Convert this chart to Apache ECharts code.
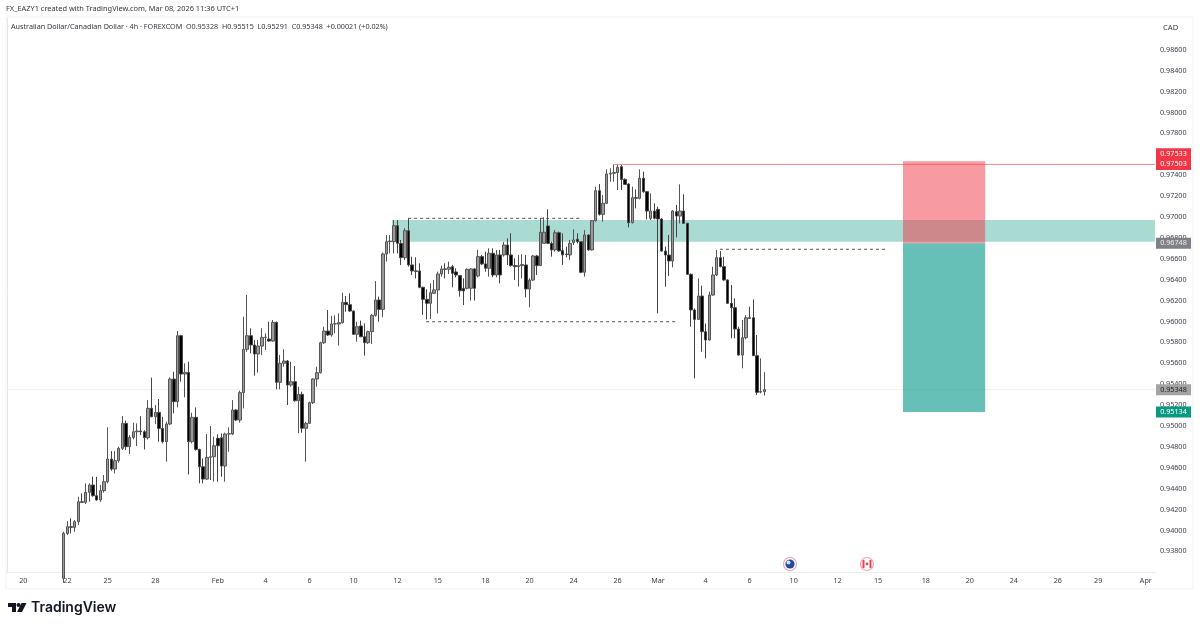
<!DOCTYPE html>
<html>
<head>
<meta charset="utf-8">
<title>AUDCAD 4h</title>
<script src="https://cdn.jsdelivr.net/npm/echarts@6/dist/echarts.min.js"></script>
<style>
html, body { margin: 0; padding: 0; background: #fff; }
#chart { width: 1200px; height: 627px; }
</style>
</head>
<body>
<div id="chart"></div>
<script>
// candles, oldest first, one per 4h
var opens = [.93542,.93972,.94036,.94030,.94084,.94275,.94270,.94365,.94435,.94333,.94292,.94381,.94467,.94684,.94588,.94668,.94786,.95025,.94802,.94891,.94945,.94952,.94945,.94888,.95169,.95089,.95130,.94977,.94850,.95019,.95449,.95233,.95864,.95497,.95513,.94850,.95083,.94776,.94610,.94492,.94700,.94706,.94882,.94888,.94617,.94923,.94923,.95153,.95057,
  .95319,.95734,.95864,.95775,.95689,.95765,.95848,.95832,.95813,.95992,.95418,.95600,.95622,.95392,.95424,.95242,.95303,.94978,.95025,.95223,.95450,.95510,.95797,.95909,.95871,.95976,.95976,.95989,.96183,.96161,.96100,.95877,.95957,.95855,.95797,.95903,.96059,.96206,.96116,.96646,.96764,.96764,.96917,.96748,.96611,.96869,.96541,.96484,.96484,
  .96327,.96212,.96174,.96270,.96302,.96455,.96503,.96500,.96525,.96474,.96439,.96318,.96318,.96318,.96503,.96436,.96621,.96551,.96509,.96653,.96445,.96637,.96637,.96732,.96637,.96535,.96525,.96535,.96541,.96311,.96397,.96627,.96535,.96748,.96914,.96748,.96685,.96850,.96678,.96646,.96637,.96755,.96787,.96764,.96471,.96828,.96685,
  .96965,.97252,.97025,.97131,.97411,.97418,.97424,.97481,.97360,.97316,.96945,.97185,.97179,.97370,.97242,.96987,.97057,.97073,.96981,.96674,.96636,.96579,.97051,.97009,.97057,.96939,.96451,.96110,.96020,.96244,.95902,.95823,.96253,.96445,.96611,.96525,.96397,.96174,.96132,.95928,.95679,.95845,.96036,.96036,.95673,.95325,.95328];
var highs = [.93988,.94090,.94116,.94100,.94323,.94355,.94451,.94451,.94515,.94515,.94435,.94531,.94987,.94760,.94760,.94802,.95095,.95051,.94913,.95031,.95025,.95095,.94961,.95248,.95462,.95200,.95258,.95089,.95041,.95465,.95520,.95909,.95870,.95600,.95615,.95127,.95178,.94782,.94690,.94923,.95000,.94898,.94920,.94929,.94936,.94987,.95248,.95160,.95338,
  .96046,.96254,.95935,.95823,.95823,.95935,.95887,.95998,.96014,.96000,.95679,.95734,.95632,.95615,.95574,.95376,.95328,.95041,.95233,.95456,.95568,.95807,.95950,.96110,.96053,.96059,.96078,.96276,.96244,.96270,.96105,.95998,.96008,.95982,.95912,.96072,.96387,.96238,.96659,.96828,.96828,.96971,.96971,.96780,.96892,.96987,.96620,.96614,.96557,
  .96333,.96308,.96366,.96397,.96477,.96535,.96557,.96573,.96541,.96509,.96445,.96413,.96509,.96509,.96509,.96685,.96637,.96669,.96700,.96700,.96685,.96685,.96760,.96796,.96844,.96605,.96637,.96643,.96637,.96413,.96637,.96637,.96988,.96997,.97074,.96764,.96876,.96860,.96844,.96716,.96780,.96882,.96844,.96764,.96876,.96835,.96971,
  .97290,.97316,.97210,.97456,.97466,.97504,.97507,.97504,.97370,.97322,.97290,.97264,.97456,.97434,.97245,.97226,.97131,.97099,.96987,.96716,.96828,.97067,.97115,.97312,.97217,.96945,.96460,.96125,.96413,.96343,.95982,.96285,.96525,.96684,.96674,.96620,.96403,.96349,.96221,.95950,.96014,.96062,.96142,.96212,.95871,.95647,.95515];
var lows = [.93500,.93956,.93972,.93988,.94052,.94265,.94253,.94275,.94323,.94285,.94275,.94362,.94451,.94572,.94547,.94649,.94770,.94770,.94732,.94872,.94808,.94913,.94776,.94872,.95083,.95019,.94850,.94834,.94658,.95009,.95121,.95178,.95424,.95274,.94537,.94834,.94764,.94451,.94451,.94483,.94483,.94467,.94467,.94515,.94467,.94754,.94913,.95047,.95033,
  .95169,.95711,.95695,.95482,.95510,.95679,.95727,.95807,.95807,.95351,.95351,.95568,.95201,.95376,.95233,.94930,.94936,.94658,.95025,.95210,.95376,.95504,.95785,.95861,.95855,.95887,.95769,.95982,.96094,.96094,.95871,.95807,.95849,.95673,.95785,.95785,.96046,.95998,.96040,.96573,.96652,.96652,.96652,.96541,.96589,.96525,.96445,.96413,.96318,
  .96063,.96019,.96024,.96263,.96078,.96429,.96413,.96455,.96327,.96423,.96238,.96158,.96308,.96200,.96200,.96423,.96541,.96477,.96429,.96423,.96423,.96365,.96621,.96541,.96525,.96397,.96334,.96413,.96231,.96136,.96388,.96445,.96531,.96748,.96741,.96621,.96669,.96669,.96541,.96614,.96589,.96732,.96748,.96461,.96429,.96678,.96678,
  .96955,.97013,.96955,.97124,.97338,.97338,.97258,.97258,.97306,.96901,.96939,.97083,.97169,.97233,.96977,.96971,.96977,.96078,.96668,.96333,.96435,.96518,.96805,.96939,.96933,.96445,.95950,.95456,.96014,.95711,.95647,.95816,.96247,.96435,.96518,.96390,.96167,.95839,.95839,.95673,.95552,.95829,.96030,.95670,.95296,.95312,.95291];
var closes = [.93972,.94036,.94030,.94084,.94275,.94270,.94365,.94435,.94333,.94292,.94381,.94467,.94684,.94588,.94668,.94786,.95025,.94802,.94891,.94945,.94952,.94945,.94888,.95169,.95089,.95130,.94977,.94850,.95019,.95449,.95233,.95864,.95497,.95513,.94850,.95083,.94776,.94610,.94492,.94700,.94706,.94811,.94811,.94617,.94923,.94926,.95153,.95057,.95319,
  .95734,.95864,.95775,.95689,.95765,.95848,.95850,.95813,.95992,.95418,.95600,.95622,.95392,.95424,.95242,.95303,.94978,.95025,.95223,.95450,.95510,.95797,.95909,.95871,.95976,.95979,.95989,.96183,.96161,.96100,.95877,.95950,.95855,.95797,.95903,.96059,.96206,.96116,.96646,.96764,.96770,.96917,.96748,.96611,.96869,.96541,.96484,.96480,.96327,
  .96212,.96174,.96276,.96302,.96455,.96503,.96500,.96519,.96461,.96445,.96295,.96292,.96499,.96503,.96318,.96621,.96551,.96509,.96653,.96445,.96637,.96445,.96732,.96637,.96535,.96525,.96535,.96545,.96311,.96397,.96627,.96535,.96854,.96854,.96748,.96685,.96850,.96675,.96637,.96640,.96748,.96780,.96764,.96471,.96828,.96685,.96965,
  .97252,.97025,.97131,.97411,.97418,.97425,.97475,.97360,.97312,.96945,.97185,.97180,.97370,.97242,.97057,.97057,.96987,.96981,.96674,.96636,.96579,.97057,.97009,.97057,.96939,.96451,.96110,.96020,.96244,.95902,.95823,.96253,.96445,.96611,.96525,.96397,.96174,.96132,.95928,.95679,.95845,.96036,.96030,.95673,.95322,.95328,.95348];

// x axis, one slot per candle width, future slots stay empty
var leadingSlots = 15;
var slotCount = 313;
var tickSlots = [4,16,27,40,57,70,82,94,106,117,130,142,154,166,177,190,202,214,226,237,250,262,274,286,297,310];
var tickLabels = ['20','22','25','28','Feb','4','6','10','12','15','18','20','24','26','Mar','4','6','10','12','15','18','20','24','26','29','Apr'];
var priceTicks = [0.938,0.94,0.942,0.944,0.946,0.948,0.95,0.952,0.954,0.956,0.958,0.96,0.962,0.964,0.966,0.968,0.97,0.972,0.974,0.976,0.978,0.98,0.982,0.984,0.986];

// drawings on the chart, [from slot, to slot, price top, price bottom]
var supplyZone = [105, 313, 0.96971, 0.96764];
var stopBox = [244.3, 266.7, 0.97533, 0.96748];
var targetBox = [244.3, 266.7, 0.96748, 0.95134];
// [from slot, to slot, price]
var dashedLevels = [[109.4, 156.8, 0.96987], [114.3, 182.7, 0.95998], [194.4, 240.2, 0.96691]];
var stopLine = [165.3, 313, 0.97503];
var lastPrice = 0.95348;
var tagPrices = [0.97533, 0.97503, 0.96748, 0.95348, 0.95134];

var FONT = '"Noto Sans", sans-serif';
var TEXT = '#3a3d45';
var tagFill = ['#f23645', '#f23645', '#7f8186', '#a3a3a3', '#089981'];
var tagText = ['#fff', '#fff', '#eee', '#222', '#fff'];

var categories = [];
for (var i = 0; i < slotCount; i++) {
    var t = tickSlots.indexOf(i);
    categories.push(t >= 0 ? tickLabels[t] : '');
}

var candleData = [];
for (var i = 0; i < leadingSlots; i++) candleData.push('-');
for (var i = 0; i < opens.length; i++) {
    candleData.push([opens[i], closes[i], lows[i], highs[i]]);
}

function boxSeries(box, color, z) {
    return {
        type: 'custom',
        xAxisIndex: 1,
        z: z,
        silent: true,
        data: [box],
        renderItem: function (params, api) {
            var a = api.coord([api.value(0), api.value(2)]);
            var b = api.coord([api.value(1), api.value(3)]);
            return {
                type: 'rect',
                shape: { x: a[0], y: a[1], width: b[0] - a[0], height: b[1] - a[1] },
                style: { fill: color }
            };
        }
    };
}

function levelSeries(level, color, type, z) {
    return {
        type: 'line',
        xAxisIndex: 1,
        z: z,
        silent: true,
        symbol: 'none',
        lineStyle: { color: color, width: 1, type: type },
        data: [[level[0], level[2]], [level[1], level[2]]]
    };
}

var series = [
    boxSeries(supplyZone, '#a9dbd3', 1),
    levelSeries([0, slotCount, lastPrice], '#efefef', 'solid', 1),
    {
        type: 'candlestick',
        z: 2,
        barWidth: 3,
        silent: true,
        itemStyle: {
            color: '#9a9a9a',
            color0: '#000',
            borderColor: '#555',
            borderColor0: '#444',
            borderWidth: 1
        },
        data: candleData
    },
    levelSeries(stopLine, '#f58a92', 'solid', 3),
    boxSeries(stopBox, 'rgba(242,54,69,0.5)', 4),
    boxSeries(targetBox, 'rgba(0,150,136,0.6)', 4)
];
dashedLevels.forEach(function (level) {
    series.push(levelSeries(level, '#555', [3, 3], 3));
});
// price tags sit on the scale, right of the plot
series.push({
    type: 'custom',
    xAxisIndex: 1,
    z: 6,
    silent: true,
    data: tagPrices.map(function (p) { return [slotCount, p]; }),
    renderItem: function (params, api) {
        var c = api.coord([slotCount, api.value(1)]);
        var i = params.dataIndex;
        var y = i === 0 ? c[1] - 7.5 : c[1];   // top tag gets pushed up by the one under it
        return {
            type: 'group',
            children: [
                { type: 'rect', shape: { x: c[0] + 1, y: y - 5.5, width: 35, height: 11 }, style: { fill: tagFill[i] } },
                { type: 'text', style: { x: c[0] + 18.5, y: y, text: api.value(1).toFixed(5), fill: tagText[i], font: '7.2px ' + FONT, align: 'center', verticalAlign: 'middle' } }
            ]
        };
    }
});

var myChart = echarts.init(document.getElementById('chart'));
myChart.setOption({
    animation: false,
    backgroundColor: '#fff',
    grid: { left: 6.85, right: 45, top: 18.45, bottom: 54.7, containLabel: false },
    xAxis: [
        {
            type: 'category',
            data: categories,
            boundaryGap: true,
            axisLine: { lineStyle: { color: '#eceef3' } },
            axisTick: { show: false },
            splitLine: { show: false },
            axisLabel: {
                color: TEXT,
                fontFamily: FONT,
                fontSize: 7.2,
                margin: 5,
                hideOverlap: false,
                interval: function (index) { return tickSlots.indexOf(index) >= 0; }
            }
        },
        { type: 'value', min: 0, max: slotCount, show: false }
    ],
    yAxis: {
        type: 'value',
        position: 'right',
        min: 0.936,
        max: 0.989,
        axisLine: { show: true, lineStyle: { color: '#e4e6ec' } },
        axisTick: { show: false },
        splitLine: { show: false },
        axisLabel: {
            color: TEXT,
            fontFamily: FONT,
            fontSize: 7.2,
            margin: 5,
            customValues: priceTicks,
            formatter: function (v) { return v.toFixed(5); }
        }
    },
    series: series,
    graphic: [
        { type: 'rect', z: 0, shape: { x: 6, y: 17, width: 1187, height: 572 }, style: { fill: 'none', stroke: '#f0f2f6', lineWidth: 1 } },
        { type: 'text', z: 10, style: { x: 6, y: 9, text: 'FX_EAZY1 created with TradingView.com, Mar 08, 2026 11:36 UTC+1', fill: '#33363d', font: '7.4px ' + FONT, verticalAlign: 'middle' } },
        { type: 'text', z: 10, style: { x: 11, y: 26.5, text: 'Australian Dollar/Canadian Dollar \u00b7 4h \u00b7 FOREXCOM  O0.95328  H0.95515  L0.95291  C0.95348  +0.00021 (+0.02%)', fill: '#33363d', font: '7.2px ' + FONT, verticalAlign: 'middle' } },
        { type: 'text', z: 10, style: { x: 1163, y: 28, text: 'CAD', fill: '#33363d', font: '7.6px ' + FONT, verticalAlign: 'middle' } },
        // TradingView logo
        { type: 'polygon', z: 10, shape: { points: [[8, 603], [16, 603], [16, 612], [12, 612], [12, 607], [8, 607]] }, style: { fill: '#131722' } },
        { type: 'circle', z: 10, shape: { cx: 18.5, cy: 605, r: 2 }, style: { fill: '#131722' } },
        { type: 'polygon', z: 10, shape: { points: [[21.5, 603], [26.5, 603], [22, 612], [17, 612]] }, style: { fill: '#131722' } },
        { type: 'text', z: 10, style: { x: 31, y: 608, text: 'TradingView', fill: '#131722', font: '600 14px Inter, ' + FONT, verticalAlign: 'middle' } },
        // event badges on the time scale
        { type: 'circle', z: 10, shape: { cx: 790, cy: 564, r: 6.5 }, style: { fill: '#fff', stroke: '#f7a3aa', lineWidth: 1.2 } },
        { type: 'circle', z: 11, shape: { cx: 790, cy: 564, r: 4.6 }, style: { fill: '#1f4aa8' } },
        { type: 'circle', z: 12, shape: { cx: 788.5, cy: 562.5, r: 2 }, style: { fill: '#dfe6f5' } },
        { type: 'circle', z: 10, shape: { cx: 867, cy: 564, r: 6.5 }, style: { fill: '#fff', stroke: '#f7a3aa', lineWidth: 1.2 } },
        { type: 'rect', z: 11, shape: { x: 862.5, y: 560, width: 2, height: 8 }, style: { fill: '#e64650' } },
        { type: 'rect', z: 11, shape: { x: 869.5, y: 560, width: 2, height: 8 }, style: { fill: '#e64650' } },
        { type: 'circle', z: 11, shape: { cx: 867, cy: 564, r: 1.4 }, style: { fill: '#e64650' } }
    ]
});

$ = null;
window.addEventListener('resize', function () { myChart.resize(); });
</script>
</body>
</html>
